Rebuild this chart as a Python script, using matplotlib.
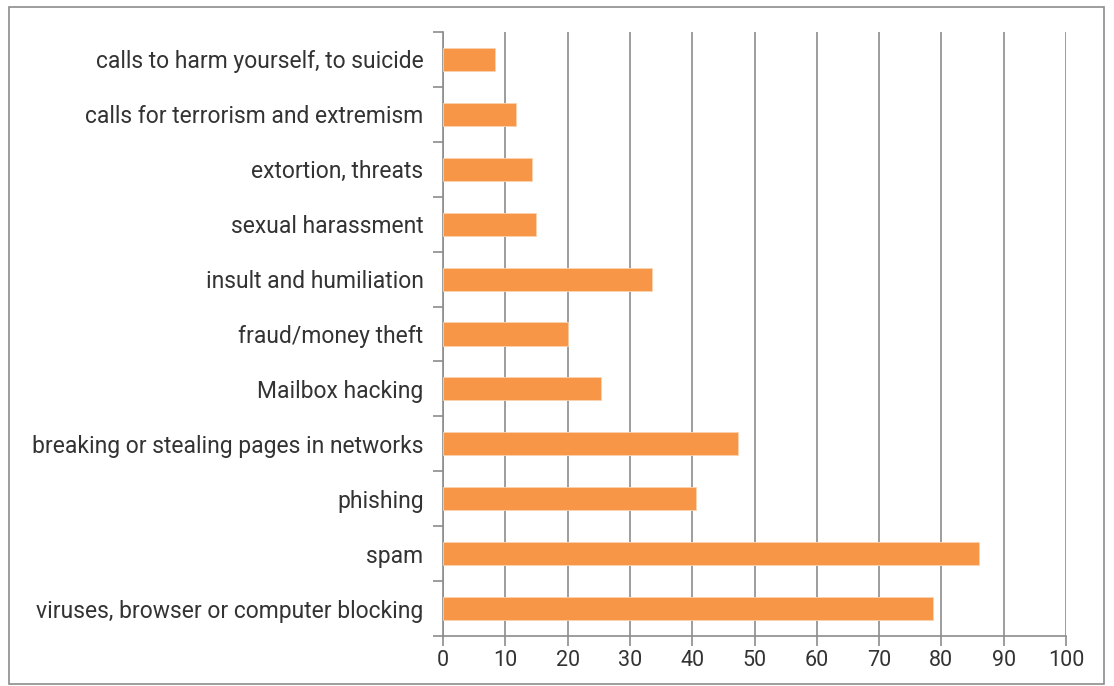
import numpy as np
import matplotlib.pyplot as plt
from matplotlib.patches import Rectangle

# categories from top to bottom as they appear in the chart
categories = [
    'calls to harm yourself, to suicide',
    'calls for terrorism and extremism',
    'extortion, threats',
    'sexual harassment',
    'insult and humiliation',
    'fraud/money theft',
    'Mailbox hacking',
    'breaking or stealing pages in networks',
    'phishing',
    'spam',
    'viruses, browser or computer blocking',
]
values = [8.3, 11.7, 14.3, 14.9, 33.5, 20.1, 25.4, 47.4, 40.6, 86.1, 78.7]
x_ticks = [0, 10, 20, 30, 40, 50, 60, 70, 80, 90, 100]

plt.rcParams['font.family'] = ['Roboto', 'DejaVu Sans']

W, H = 1114, 686
fig = plt.figure(figsize=(W / 100, H / 100), dpi=100)
ax = fig.add_axes([443 / W, 1 - 636 / H, (1066 - 443) / W, (636 - 32) / H])

grid_c = '#8c8c8c'
txt_c = '#333333'
n = len(categories)
y = np.arange(n)[::-1]
ax.barh(y, values, height=0.42, color='#F79646', edgecolor='#fbd3b0', linewidth=0.6, zorder=3)

ax.set_xlim(0, 100)
ax.set_ylim(-0.5, n - 0.5)
ax.set_xticks(x_ticks)
ax.set_xticklabels([str(t) for t in x_ticks], fontsize=15.5, color=txt_c)
ax.set_yticks(y)
ax.set_yticklabels(categories, fontsize=16.5, color=txt_c)
ax.set_yticks(np.arange(n + 1) - 0.5, minor=True)
ax.tick_params(axis='y', which='major', length=0, pad=14)
ax.tick_params(axis='y', which='minor', length=7, width=1.2, color=grid_c)
ax.tick_params(axis='x', length=7, width=1.2, color=grid_c, pad=3)

ax.xaxis.grid(True, color=grid_c, linewidth=1.2, zorder=0)
ax.set_axisbelow(True)
for s in ['top', 'right']:
    ax.spines[s].set_visible(False)
for s in ['left', 'bottom']:
    ax.spines[s].set_color(grid_c)
    ax.spines[s].set_linewidth(1.2)

# light frame around the whole chart
fig.patches.append(Rectangle((9 / W, 1 - 684 / H), (1104 - 9) / W, (684 - 7) / H,
                             transform=fig.transFigure, fill=False,
                             edgecolor='#8c8c8c', linewidth=1.2))

fig.savefig('out.png', dpi=100)
